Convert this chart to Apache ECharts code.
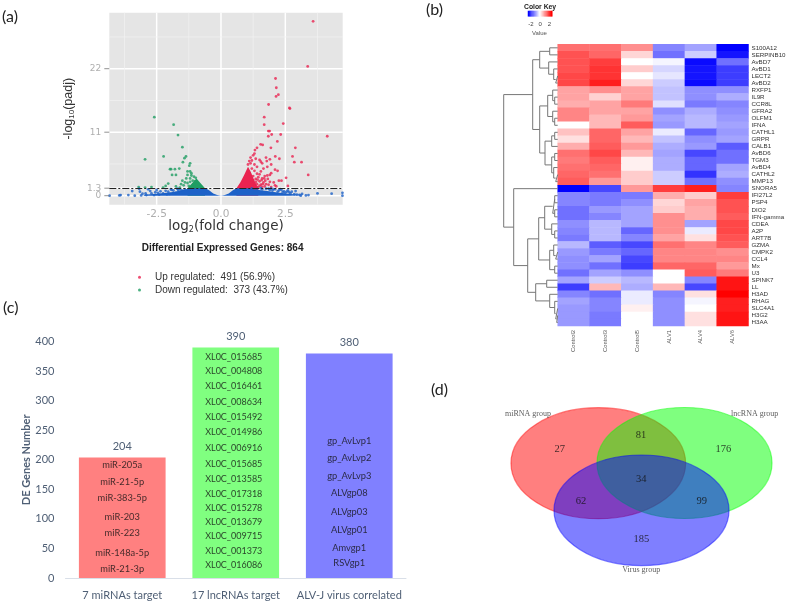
<!DOCTYPE html>
<html>
<head>
<meta charset="utf-8">
<title>DE genes figure</title>
<style>
  html, body { margin: 0; padding: 0; background: #fff; }
  #main { width: 787px; height: 602px; }
</style>
<script src="https://cdn.jsdelivr.net/npm/echarts@6/dist/echarts.min.js"></script>
</head>
<body>
<div id="main"></div>
<script>
// (a) volcano plot, [log2FC, -log10 padj]
const upPoints = [[3.58,30.2],[3.37,22.4],[2.12,20.3],[2.15,18.7],[2.23,17.5],[2.14,17.2],[1.85,15.8],[2.66,15.2],[2.68,15.1],[1.68,13.6],[1.68,12.3],[2.42,12.5],[1.84,11.2],[1.89,11.2],[1.97,10.6],[1.84,10.3],[2.32,10.6],[4.13,10.3],[2.19,9.4],[1.94,8.3],[1.54,8.9],[1.62,8.8],[1.4,8.3],[1.32,7.9],[2.89,8.3],[2.11,6.8],[2.27,6.4],[2.78,6.8],[2.85,5.8],[3.13,5.8],[3.39,3.6],[2.53,3.1],[2.6,1.7],
  [1.15,6.6],[1.25,7],[1.3,7.3],[1.5,6.2],[1.55,5.9],[1.3,5.4],[1.15,5.6],[1.4,5],[1.6,5.6],[1.75,6.6],[1.78,6],[1.9,6.3],[1.95,5.4],[2.1,4.5],[2.2,4.3],[1.8,5],[1.65,4.7],[1.55,4.2],[1.4,3.8],[1.3,4.3],[1.25,3.4],[1.35,2.9],[1.45,3.2],[1.6,3],[1.7,3.4],[1.8,3.5],[1.9,3.6],[1.95,3.9],[1.72,2.6],[1.65,2.3],[1.5,2.5],[1.55,1.9],[1.4,2],[1.3,1.7],[1.2,2.3],[1.45,1.5],[1.85,1.9],[2.05,2.3],[2.1,1.8],[1.95,1.5],[2.25,2.6],[2.35,2.6],[2.15,1.6],[1.7,1.6],[1.6,1.5],[1.2,4.7],[1.12,3.8],[1.25,2.7],[1.22,1.5],[1.75,2],
  [1.1,6],[1.2,6.1],[1.05,5.4],[1.35,6.4],[1.18,3],[1.28,2.1],[1.36,2.4],[1.42,2.8],[1.5,3.7],[1.58,2.7],[1.62,2],[1.5,1.7],[1.38,1.5],[1.68,3],[1.82,2.9],[1.9,2.4]];
const downPoints = [[-2.59,13.6],[-1.84,12.3],[-1.67,10.5],[-1.5,8.4],[-2.95,6.3],[-2.23,6.8],[-1.36,6.8],[-1.42,6.5],[-1.48,5.8],[-1.2,5.6],[-1.23,5.2],[-1.98,4.6],[-1.94,4.6],[-1.79,4.6],[-1.62,4.7],[-1.9,3.6],[-1.75,3.6],
  [-1.3,4.2],[-1.2,4.2],[-1.15,3.9],[-1.3,3.6],[-1.15,3.5],[-1.05,3.3],[-1.35,3],[-1.2,3],[-1.5,2.6],[-1.4,2.3],[-1.3,2.2],[-1.2,2.4],[-1.1,2.6],[-0.98,3.1],[-1,2.5],[-2.05,2.1],[-2.15,1.7],[-1.75,1.6],[-3.2,1.5],[-2.7,1.5],[-2.95,1.4],[-1.55,2],[-1.45,1.8],[-1.25,1.7],[-2.25,1.4],[-1.6,1.4],[-1.05,1.9]];
const nsPoints = [[-4.33,0],[-3.95,0.05],[-3.9,0.1],[-3.45,0.8],[-3.35,0],[-3.18,1.2],[-3.15,0.7],[-2.93,0.4],[-2.83,1.1],[-2.75,0.8],[-2.5,1],[-2.6,0.1],[-2.25,0.4],[-2.05,0.7],[-1.92,1],[-1.66,1],[-1.53,0.9],[-1.4,1.1],[-1.75,0.5],[-2,0.3],[-2.4,0.2],[-2.9,0.1],[-3.1,0.05],
  [-2.7,0.4],[-2.55,0.6],[-2.35,0.75],[-2.15,0.85],[-2.1,0.25],[-1.85,0.9],[-1.95,1.15],[-1.7,1.2],[-3.05,0.35],[-2.45,0.5],[-1.6,1.15],[-3.6,0.1],
  [1.2,1.25],[1.4,1.15],[1.6,1.1],[1.75,1.2],[1.9,1],[2,0.9],[2.1,1.1],[2.2,0.7],[2.35,1],[2.5,0.5],[2.6,0.9],[2.7,0.4],[2.9,0.8],[2.95,0.2],[3.1,0],[3.15,0.3],[3.75,0.4],[4.3,0.35],[4.72,0.5],[4.72,0],[3.3,0.05],[2.85,0.25],[2.45,0.75],[1.55,1.3],
  [1.85,1.2],[2.05,1.15],[2.25,0.9],[2.4,0.6],[2.55,0.7],[2.65,0.6],[2.75,0.7],[3.05,0.15],[2.3,1.15],[1.95,1.25],[3.4,0.1]];
// the solid part of the cloud, outline of the merged dots
const nsOutline = [[-3,0.15],[-2.5,0.35],[-2.1,0.5],[-1.8,0.7],[-1.5,1],[-1.3,1.15],[-1.05,1.3],[-0.6,1.3],[-0.45,0.9],[-0.3,0.4],[-0.15,0.1],[0,0],[0.15,0.1],[0.3,0.4],[0.45,0.9],[0.6,1.3],[1.1,1.3],[1.4,1.05],[1.8,0.8],[2.2,0.55],[2.7,0.3],[3.2,0.12]];
const upOutline = [[0.6,1.3],[0.75,2.3],[0.9,3.6],[1.05,5],[1.15,4.2],[1.3,2.6],[1.45,1.3]];
const downOutline = [[-1.3,1.3],[-1.1,2.3],[-0.95,3],[-0.8,2.2],[-0.62,1.3]];
const volcanoXRange = [-4.34, 4.73];
const volcanoYRange = [-1.56, 31.7];
const volcanoXTicks = [-2.5, 0, 2.5];
const volcanoYTicks = [0, 1.3, 11, 22];
const volcanoXMinor = [-3.75, -1.25, 1.25, 3.75];
const volcanoYMinor = [5.5, 16.5, 27.5];

// (b) heatmap
const samples = ['Control2', 'Control3', 'Control5', 'ALV1', 'ALV4', 'ALV6'];
const genes = ['S100A12','SERPINB10','AvBD7','AvBD1','LECT2','AvBD2','RXFP1','IL9R','CCR8L','GFRA2','OLFM1','IFNA','CATHL1','GRPR','CALB1','AvBD6','TGM3','AvBD4','CATHL2','MMP13','SNORA5','IFI27L2','PSP4','DIO2','IFN-gamma','CDEA','A2P','ART7B','GZMA','CMPK2','CCL4','Mx','U3','SPINK7','LL','H3AD','RHAG','SLC4A1','H3G2','H3AA'];
const expression = [
  [1.4,1.4,1.1,-1.2,-0.9,-2.5],
  [1.7,1.5,0.4,-1.4,-0.5,-2.3],
  [1.7,1.9,0,-0.1,-2.4,-1.4],
  [1.7,2,0.5,-0.4,-2.3,-1.9],
  [1.8,2,0,-0.25,-2.3,-1.9],
  [1.8,2.2,0.4,-0.5,-2.4,-1.9],
  [0.9,1.1,0.9,-0.6,-1.1,-1.1],
  [0.9,0.45,0.9,-0.6,-1.1,-0.8],
  [0.8,0.9,1.3,-0.3,-1.3,-1.2],
  [1.2,0.9,0.9,-1.1,-0.8,-1.1],
  [1.2,0.7,1,-0.9,-0.7,-1],
  [0,0.7,1.6,-1,-0.7,-0.9],
  [0.6,1.5,0.9,-0.2,-1.5,-1],
  [0.3,1.5,0.7,-0.6,-1.1,-0.9],
  [0.8,1.6,1,-0.8,-1,-1.6],
  [1.4,1.8,0.7,-0.9,-1.8,-1.4],
  [1.3,1.6,0.15,-0.8,-1.5,-1.4],
  [1.4,1.5,0.15,-0.8,-1.5,-0.9],
  [1.5,1.4,0.5,-0.5,-2,-0.8],
  [1.6,1,0.5,-0.5,-1.4,-1.1],
  [-2.5,-1.8,1,1.9,2.2,-1.2],
  [-1.2,-1.3,-1.3,0.8,0.5,1.9],
  [-1.2,-1.3,-1.1,0.4,0.9,1.7],
  [-1.4,-1,-0.9,0.5,0.8,1.7],
  [-1.4,-1.2,-0.9,1.1,0.8,1.6],
  [-1.1,-0.7,-0.9,1.1,-0.9,1.8],
  [-1.2,-0.7,-1.5,1.1,-0.2,1.8],
  [-1.3,-0.7,-1.2,0.9,0.3,1.7],
  [-0.7,-1.6,-1.8,1.4,1.2,1.6],
  [-1,-1.3,-1.5,1.2,1.2,1.1],
  [-1.1,-0.9,-1.8,1.2,1.2,1.2],
  [-1.1,-1.4,-1.9,1.5,1.5,1],
  [-1.4,-0.9,-1.1,0,1.6,1.3],
  [-0.9,-0.5,-0.7,0,-1.2,2.3],
  [-1.9,0.7,-0.8,0.7,-1.8,2.3],
  [-1.2,-1.4,-0.2,-1.2,0.3,2.5],
  [-0.9,-1.2,-0.2,-1.1,-0.1,2.2],
  [-1,-1.2,0.15,-1.1,0,2.2],
  [-1,-1.3,0,-1.1,0.3,2.3],
  [-1,-1.3,0,-1.1,0.3,2.3]
];
const keySteps = [-2.5,-2.25,-2,-1.75,-1.5,-1.25,-1,-0.75,-0.5,-0.25,0,0.25,0.5,0.75,1,1.25,1.5,1.75,2,2.25,2.5];
const keyLabels = [-2, 0, 2];
const keyTicks = [-2, -1, 0, 1, 2];
// row dendrogram: [left, right, height], a number is a row index
const rowTree = [
  [
    [[0,1,8], [2,[3,[4,5,2],4],9], 18],
    [
      [[6,[7,8,3],5], [9,[10,11,3],5], 10],
      [[[12,13,3],14,6], [[15,16,3],[17,[18,19,2],4],6], 12.7],
      18
    ],
    25
  ],
  [
    20,
    [
      [
        [[[21,22,3],[23,24,3],5], [25,[26,27,3],6], 13],
        [[28,[29,30,2],4], [31,32,3], 8],
        19
      ],
      [[33,34,11], [35,[36,[37,[38,39,1],2],3],8], 22],
      30
    ],
    44
  ],
  54
];

// (c) bars
const targetGroups = ['7 miRNAs target', '17 lncRNAs target', 'ALV-J virus correlated'];
const targetCounts = [204, 390, 380];
const mirnaNames = ['miR-205a','miR-21-5p','miR-383-5p','miR-203','miR-223','miR-148a-5p','miR-21-3p'];
const mirnaHeights = [191,162,135,104,75.6,43,14.7];
const lncNames = ['XL0C_015685','XL0C_004808','XL0C_016461','XL0C_008634','XL0C_015492','XL0C_014986','XL0C_006916','XL0C_015685','XL0C_013585','XL0C_017318','XL0C_015278','XL0C_013679','XL0C_009715','XL0C_001373','XL0C_016086'];
const lncHeights = [374.6,351,325.5,298.5,272,247.7,220.6,193,167,142,118.5,94,70.5,46,22.6];
const virusNames = ['gp_AvLvp1','gp_AvLvp2','gp_AvLvp3','ALVgp08','ALVgp03','ALVgp01','Amvgp1','RSVgp1'];
const virusHeights = [232,202.5,173,144,112,82,51,25];

// (d) venn, in the panel's own units
const vennSets = [
  { name: 'miRNA group', c: [168.3, 93.2], r: [87.3, 55.5], color: '#ff0000' },
  { name: 'lncRNA group', c: [254.5, 93], r: [87.5, 55.5], color: '#00ff00' },
  { name: 'Virus group', c: [211.5, 140.3], r: [87.5, 55.3], color: '#0000ff' }
];
const vennCounts = [[129.7,79.7,'27'],[211,65.3,'81'],[293.3,79.7,'176'],[211.3,109.3,'34'],[151,131.3,'62'],[271.7,131.3,'99'],[211.3,169,'185']];
const vennNames = [[98,44,'miRNA group'],[324.7,44,'lncRNA group'],[211.3,200.3,'Virus group']];

function flatten(matrix) {
  const out = [];
  matrix.forEach(function (row, r) {
    row.forEach(function (v, c) { out.push([c, r, v]); });
  });
  return out;
}

// turns the tree into one broken line
function treeLine(root) {
  const pts = [];
  function walk(n) {
    if (typeof n === 'number') return { h: 0, y: n + 0.5 };
    const a = walk(n[0]), b = walk(n[1]);
    pts.push([a.h, a.y], [n[2], a.y], [n[2], b.y], [b.h, b.y], ['-', '-']);
    return { h: n[2], y: (a.y + b.y) / 2 };
  }
  walk(root);
  return pts;
}

// grid lines of the volcano as one broken line
function gridLines(xs, ys) {
  const pts = [];
  xs.forEach(function (v) { pts.push([v, volcanoYRange[0]], [v, volcanoYRange[1]], ['-', '-']); });
  ys.forEach(function (v) { pts.push([volcanoXRange[0], v], [volcanoXRange[1], v], ['-', '-']); });
  return pts;
}

function bandLabels(index, names, heights) {
  return names.map(function (n, i) {
    return { name: n, value: [index, heights[i]] };
  });
}

function tag(text, left, top) {
  return { text: text, left: left, top: top, padding: 0, textStyle: { fontFamily: 'Lato', fontSize: 16, fontWeight: 'normal', color: '#222' } };
}

function panelGrid(g) {
  g.outerBoundsMode = 'none';
  return g;
}

const grey = '#9a9a9a';
const slate = '#4f5f75';

const option = {
  animation: false,
  backgroundColor: '#fff',
  title: [
    tag('(a)', 2, 9),
    tag('(b)', 426, 2),
    tag('(c)', 3, 300),
    tag('(d)', 431, 382),
    { text: 'Differential Expressed Genes: 864', left: 141.7, top: 243, padding: 0, textStyle: { fontFamily: 'Liberation Sans', fontSize: 10, fontWeight: 'bold', color: '#222' } },
    { text: 'Color Key', left: 524, top: 3.5, padding: 0, textStyle: { fontFamily: 'Liberation Sans', fontSize: 6.8, fontWeight: 'bold', color: '#222' } },
    { text: 'Value', left: 532, top: 30, padding: 0, textStyle: { fontFamily: 'Liberation Sans', fontSize: 6, fontWeight: 'normal', color: '#555' } }
  ],
  legend: {
    left: 138, top: 271, orient: 'vertical', itemWidth: 3, itemHeight: 3, itemGap: 0, icon: 'circle',
    data: ['Up regulated:  491 (56.9%)', 'Down regulated:  373 (43.7%)'],
    padding: 0,
    selectedMode: false,
    textStyle: { fontFamily: 'Liberation Sans', fontSize: 10, color: '#333', padding: [0, 0, 0, 9], lineHeight: 12.6 }
  },
  visualMap: {
    show: false, seriesIndex: [7, 8], min: -2.5, max: 2.5,
    inRange: { color: ['#0000ff', '#ffffff', '#ff0000'] }
  },
  grid: [
    { left: 109.3, top: 12.7, width: 233.4, height: 192, show: true, backgroundColor: '#e5e5e5', borderWidth: 0 },
    { left: 502.7, top: 44.3, width: 55, height: 281.7 },
    { left: 557.7, top: 44.3, width: 190.8, height: 281.7 },
    { left: 528, top: 11, width: 24.3, height: 5.3 },
    { left: 65.5, top: 341.7, width: 340.5, height: 236.3 },
    { left: 430, top: 370, width: 357, height: 232 }
  ].map(panelGrid),
  xAxis: [
    {
      gridIndex: 0, type: 'value', min: volcanoXRange[0], max: volcanoXRange[1],
      name: 'log{s|2}(fold change)', nameLocation: 'middle', nameGap: 15,
      nameTextStyle: { fontFamily: 'DejaVu Sans', fontSize: 13.5, color: '#333', rich: { s: { fontFamily: 'DejaVu Sans', fontSize: 8, color: '#333', padding: [6, 0, 0, 0] } } },
      axisLine: { show: false, onZero: false },
      axisTick: { show: false }, axisLabel: { show: false }, splitLine: { show: false }
    },
    { gridIndex: 1, type: 'value', min: 0, max: 55, inverse: true, show: false },
    {
      gridIndex: 2, type: 'category', data: samples, position: 'bottom',
      axisLine: { show: false }, axisTick: { show: false },
      axisLabel: { rotate: 90, margin: 4, fontFamily: 'Liberation Sans', fontSize: 5.8, color: '#555' }
    },
    {
      gridIndex: 3, type: 'category', data: keySteps, position: 'bottom',
      axisLine: { show: false },
      axisTick: { length: 2, alignWithLabel: true, interval: function (i, v) { return keyTicks.indexOf(+v) >= 0; }, lineStyle: { color: '#555', width: 0.5 } },
      axisLabel: { margin: 5, interval: 0, fontFamily: 'Liberation Sans', fontSize: 6, color: '#444', formatter: function (v) { return keyLabels.indexOf(+v) >= 0 ? v : ''; } }
    },
    {
      gridIndex: 4, type: 'category', data: targetGroups,
      axisLine: { lineStyle: { color: '#d9dfe8' } }, axisTick: { show: false },
      axisLabel: { margin: 12, interval: 0, fontFamily: 'Lato', fontSize: 11, color: slate }
    },
    { gridIndex: 5, type: 'value', min: 0, max: 357, show: false }
  ],
  yAxis: [
    {
      gridIndex: 0, type: 'value', min: volcanoYRange[0], max: volcanoYRange[1],
      name: '-log{s|10}(padj)', nameLocation: 'middle', nameGap: 34, nameRotate: 90,
      nameTextStyle: { fontFamily: 'Liberation Sans', fontSize: 12.5, color: '#333', rich: { s: { fontFamily: 'Liberation Sans', fontSize: 8, color: '#333', padding: [6, 0, 0, 0] } } },
      axisLine: { show: false, onZero: false },
      axisTick: { show: false }, axisLabel: { show: false }, splitLine: { show: false }
    },
    { gridIndex: 1, type: 'value', min: 0, max: 40, inverse: true, show: false },
    {
      gridIndex: 2, type: 'category', data: genes, inverse: true, position: 'right',
      axisLine: { show: false }, axisTick: { show: false },
      axisLabel: { margin: 3, interval: 0, fontFamily: 'Liberation Sans', fontSize: 6.2, color: '#333' }
    },
    { gridIndex: 3, type: 'category', data: [''], show: false },
    {
      gridIndex: 4, type: 'value', min: 0, max: 400, interval: 50,
      name: 'DE Genes Number', nameLocation: 'middle', nameGap: 33,
      nameTextStyle: { fontFamily: 'Lato', fontSize: 11, fontWeight: 'bold', color: slate },
      axisLine: { show: false }, axisTick: { show: false }, splitLine: { show: false },
      axisLabel: { margin: 11, fontFamily: 'Lato', fontSize: 11, color: slate }
    },
    { gridIndex: 5, type: 'value', min: 0, max: 232, inverse: true, show: false }
  ],
  series: [
    // major grid lines of the volcano
    {
      type: 'line', name: 'major grid', xAxisIndex: 0, yAxisIndex: 0, silent: true, z: 1,
      data: gridLines(volcanoXTicks, volcanoYTicks), symbol: 'none', connectNulls: false,
      lineStyle: { color: '#fff', width: 1.5 }
    },
    { type: 'line', name: 'up cloud', xAxisIndex: 0, yAxisIndex: 0, data: upOutline, symbol: 'none', lineStyle: { width: 0 }, areaStyle: { color: '#ea2350', opacity: 1 }, z: 2 },
    { type: 'line', name: 'down cloud', xAxisIndex: 0, yAxisIndex: 0, data: downOutline, symbol: 'none', lineStyle: { width: 0 }, areaStyle: { color: '#1f9e63', opacity: 1 }, z: 2 },
    { type: 'line', name: 'ns cloud', xAxisIndex: 0, yAxisIndex: 0, data: nsOutline, symbol: 'none', lineStyle: { width: 0 }, areaStyle: { color: '#1d62c8', opacity: 1 }, z: 3 },
    { type: 'scatter', name: 'Up regulated:  491 (56.9%)', xAxisIndex: 0, yAxisIndex: 0, data: upPoints, symbolSize: 2.8, itemStyle: { color: '#ea2350' }, z: 4 },
    { type: 'scatter', name: 'Down regulated:  373 (43.7%)', xAxisIndex: 0, yAxisIndex: 0, data: downPoints, symbolSize: 2.8, itemStyle: { color: '#1f9e63' }, z: 4 },
    {
      type: 'scatter', name: 'not significant', xAxisIndex: 0, yAxisIndex: 0, data: nsPoints, symbolSize: 2.8, itemStyle: { color: '#1d62c8' }, z: 4,
      markLine: {
        symbol: 'none', silent: true, animation: false, label: { show: false },
        lineStyle: { color: '#222', width: 1, type: [7, 2, 2, 2] },
        data: [{ yAxis: 1.3 }]
      }
    },
    // heatmap and its key
    { type: 'heatmap', xAxisIndex: 2, yAxisIndex: 2, data: flatten(expression), progressive: 0 },
    { type: 'heatmap', xAxisIndex: 3, yAxisIndex: 3, data: keySteps.map(function (v, i) { return [i, 0, v]; }) },
    // dendrogram
    {
      type: 'line', name: 'row tree', xAxisIndex: 1, yAxisIndex: 1, data: treeLine(rowTree),
      symbol: 'none', connectNulls: false, lineStyle: { color: '#777', width: 1 }
    },
    // bars
    {
      type: 'bar', xAxisIndex: 4, yAxisIndex: 4, barWidth: 86.7,
      data: [
        { value: targetCounts[0], itemStyle: { color: '#ff8080' } },
        { value: targetCounts[1], itemStyle: { color: '#80ff80' } },
        { value: targetCounts[2], itemStyle: { color: '#8080ff' } }
      ],
      label: { show: true, position: 'top', distance: 5.5, fontFamily: 'Lato', fontSize: 11, color: slate }
    },
    {
      type: 'scatter', xAxisIndex: 4, yAxisIndex: 4, symbolSize: 1, itemStyle: { color: 'transparent' }, z: 5,
      data: bandLabels(0, mirnaNames, mirnaHeights).concat(bandLabels(2, virusNames, virusHeights)),
      label: { show: true, position: 'inside', formatter: '{b}', fontFamily: 'Lato', fontSize: 9.3, color: '#111' }
    },
    {
      type: 'scatter', xAxisIndex: 4, yAxisIndex: 4, symbolSize: 1, itemStyle: { color: 'transparent' }, z: 5,
      data: bandLabels(1, lncNames, lncHeights),
      label: { show: true, position: 'inside', offset: [-2, 0], formatter: '{b}', fontFamily: 'Lato', fontSize: 9, color: '#111' }
    },
    // venn
    {
      type: 'custom', xAxisIndex: 5, yAxisIndex: 5, coordinateSystem: 'cartesian2d',
      data: vennSets.map(function (s, i) { return [s.c[0], s.c[1], s.r[0], s.r[1], i]; }),
      renderItem: function (params, api) {
        const c = api.coord([api.value(0), api.value(1)]);
        const r = api.size([api.value(2), api.value(3)]);
        const col = vennSets[api.value(4)].color;
        return {
          type: 'ellipse',
          shape: { cx: c[0], cy: c[1], rx: r[0], ry: r[1] },
          style: { fill: col, opacity: 0.5, stroke: col, lineWidth: 1.2 }
        };
      }
    },
    {
      type: 'scatter', xAxisIndex: 5, yAxisIndex: 5, symbolSize: 1, itemStyle: { color: 'transparent' }, z: 6,
      data: vennCounts,
      label: { show: true, position: 'inside', fontFamily: 'Liberation Serif', fontSize: 10.5, color: '#111', formatter: function (p) { return p.value[2]; } }
    },
    {
      type: 'scatter', xAxisIndex: 5, yAxisIndex: 5, symbolSize: 1, itemStyle: { color: 'transparent' }, z: 6,
      data: vennNames,
      label: { show: true, position: 'inside', fontFamily: 'Liberation Serif', fontSize: 8, color: '#333', formatter: function (p) { return p.value[2]; } }
    },
    // minor grid lines of the volcano
    {
      type: 'line', name: 'minor grid', xAxisIndex: 0, yAxisIndex: 0, silent: true, z: 1,
      data: gridLines(volcanoXMinor, volcanoYMinor), symbol: 'none', connectNulls: false,
      lineStyle: { color: '#f2f2f2', width: 0.7 }
    },
    // tick marks and labels of the volcano axes; the axis's own customValues dropped the zero labels
    {
      type: 'scatter', xAxisIndex: 0, yAxisIndex: 0, clip: false, silent: true, z: 5,
      data: volcanoYTicks.map(function (v) { return [volcanoXRange[0], v]; }),
      symbol: 'rect', symbolSize: [5, 1], symbolOffset: [-2.5, 0], itemStyle: { color: '#777' },
      label: { show: true, position: 'left', distance: 3, fontFamily: 'DejaVu Sans', fontSize: 9, color: grey, formatter: function (p) { return String(p.value[1]); } }
    },
    {
      type: 'scatter', xAxisIndex: 0, yAxisIndex: 0, clip: false, silent: true, z: 5,
      data: volcanoXTicks.map(function (v) { return [v, volcanoYRange[0]]; }),
      symbolSize: 0, itemStyle: { color: 'transparent' },
      label: { show: true, position: 'bottom', distance: 4, fontFamily: 'DejaVu Sans', fontSize: 10.5, color: grey, formatter: function (p) { return p.value[0].toFixed(1); } }
    }
  ]
};

const chart = echarts.init(document.getElementById('main'), null, { renderer: 'canvas' });
chart.setOption(option);
</script>
</body>
</html>
